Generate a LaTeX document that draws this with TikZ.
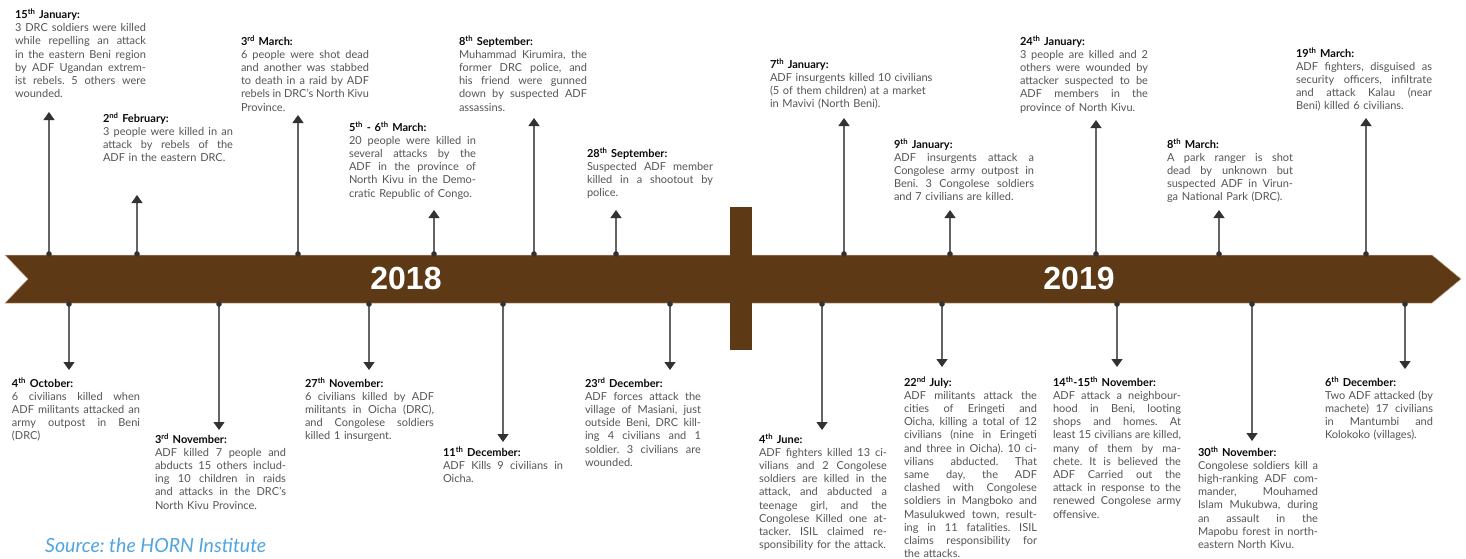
\documentclass[tikz,border=0pt]{standalone}
\usepackage{fontspec}
\setmainfont{Lato}
\setsansfont{Liberation Sans}
\usetikzlibrary{arrows.meta}
\frenchspacing
\definecolor{barbrown}{RGB}{94,57,22}
\definecolor{baredge}{RGB}{200,170,140}
\definecolor{bodytxt}{RGB}{85,85,85}
\definecolor{hdtxt}{RGB}{10,10,10}
\definecolor{conn}{RGB}{100,100,100}
\definecolor{tipc}{RGB}{50,50,50}
\definecolor{srcblue}{RGB}{80,165,225}
\newlength\evw
\newcommand\jl[1]{\hbox to\evw{\spaceskip=0.24em plus 1fil minus 0.08em\xspaceskip=\spaceskip\relax #1}}
\newcommand\nl[1]{\hbox{#1}}
\newcommand\hd[1]{\hbox{\color{hdtxt}\bfseries #1}}
\newcommand\ord[1]{\textsuperscript{#1}}
\begin{document}
\begin{tikzpicture}[x=1pt,y=-1pt,
  evt/.style={anchor=base west, inner sep=0pt, outer sep=0pt, text=bodytxt,
    font=\fontsize{11}{13.2}\selectfont},
  ew/.style={text width=#1, execute at begin node={\global\evw=#1\relax}},
  year/.style={text=white, font=\sffamily\bfseries\fontsize{32}{32}\selectfont, inner sep=0pt},
  connector/.style={draw=conn, line width=1.3pt, -{Triangle[width=11pt,length=8pt,color=tipc]}},
  dotc/.style={fill=tipc}]
\useasboundingbox (0,0) rectangle (1466,558);
\fill[white] (0,0) rectangle (1466,558);
% timeline bar
\fill[barbrown, draw=baredge, line width=0.5pt] (5,255) -- (1432,255) -- (1461,279) -- (1432,303) -- (5,303) -- (28,279) -- cycle;
\fill[barbrown] (730,207) rectangle (752,350);
\node[year] (y18) at (406,278) {2018};
\node[year] (y19) at (1079,278) {2019};
% top events
\node[evt, ew=131pt] (t1) at (15,18.5) {\hd{15\ord{th} January:}
\jl{3 DRC soldiers were killed}
\jl{while repelling an attack}
\jl{in the eastern Beni region}
\jl{by ADF Ugandan extrem-}
\jl{ist rebels. 5 others were}
\nl{wounded.}};
\node[evt, ew=130pt] (t2) at (103,122) {\hd{2\ord{nd} February:}
\jl{3 people were killed in an}
\jl{attack by rebels of the}
\nl{ADF in the eastern DRC.}};
\node[evt, ew=128pt] (t3) at (241,45) {\hd{3\ord{rd} March:}
\jl{6 people were shot dead}
\jl{and another was stabbed}
\jl{to death in a raid by ADF}
\jl{rebels in DRC's North Kivu}
\nl{Province.}};
\node[evt, ew=127pt] (t4) at (349,131) {\hd{5\ord{th} - 6\ord{th} March:}
\jl{20 people were killed in}
\jl{several attacks by the}
\jl{ADF in the province of}
\jl{North Kivu in the Demo-}
\nl{cratic Republic of Congo.}};
\node[evt, ew=128pt] (t5) at (459,45) {\hd{8\ord{th} September:}
\jl{Muhammad Kirumira, the}
\jl{former DRC police, and}
\jl{his friend were gunned}
\jl{down by suspected ADF}
\nl{assassins.}};
\node[evt, ew=126pt] (t6) at (587,157) {\hd{28\ord{th} September:}
\jl{Suspected ADF member}
\jl{killed in a shootout by}
\nl{police.}};
\node[evt, ew=165pt] (t7) at (770,68) {\hd{7\ord{th} January:}
\nl{ADF insurgents killed 10 civilians}
\nl{(5 of them children) at a market}
\nl{in Mavivi (North Beni).}};
\node[evt, ew=140pt] (t8) at (894,148) {\hd{9\ord{th} January:}
\jl{ADF insurgents attack a}
\jl{Congolese army outpost in}
\jl{Beni. 3 Congolese soldiers}
\nl{and 7 civilians are killed.}};
\node[evt, ew=128pt] (t9) at (1020,45) {\hd{24\ord{th} January:}
\jl{3 people are killed and 2}
\jl{others were wounded by}
\jl{attacker suspected to be}
\jl{ADF members in the}
\nl{province of North Kivu.}};
\node[evt, ew=126pt] (t10) at (1167,148) {\hd{8\ord{th} March:}
\jl{A park ranger is shot}
\jl{dead by unknown but}
\jl{suspected ADF in Virun-}
\nl{ga National Park (DRC).}};
\node[evt, ew=136pt] (t11) at (1296,57) {\hd{19\ord{th} March:}
\jl{ADF fighters, disguised as}
\jl{security officers, infiltrate}
\jl{and attack Kalau (near}
\nl{Beni) killed 6 civilians.}};
% bottom events
\node[evt, ew=128pt] (b1) at (12,387) {\hd{4\ord{th} October:}
\jl{6 civilians killed when}
\jl{ADF militants attacked an}
\jl{army outpost in Beni}
\nl{(DRC)}};
\node[evt, ew=131pt] (b2) at (155,443) {\hd{3\ord{rd} November:}
\jl{ADF killed 7 people and}
\jl{abducts 15 others includ-}
\jl{ing 10 children in raids}
\jl{and attacks in the DRC's}
\nl{North Kivu Province.}};
\node[evt, ew=129pt] (b3) at (305,387) {\hd{27\ord{th} November:}
\jl{6 civilians killed by ADF}
\jl{militants in Oicha (DRC),}
\jl{and Congolese soldiers}
\nl{killed 1 insurgent.}};
\node[evt, ew=120pt] (b4) at (443,456) {\hd{11\ord{th} December:}
\jl{ADF Kills 9 civilians in}
\nl{Oicha.}};
\node[evt, ew=116pt] (b5) at (585,387) {\hd{23\ord{rd} December:}
\jl{ADF forces attack the}
\jl{village of Masiani, just}
\jl{outside Beni, DRC kill-}
\jl{ing 4 civilians and 1}
\jl{soldier. 3 civilians are}
\nl{wounded.}};
\node[evt, ew=128pt] (b6) at (759,443) {\hd{4\ord{th} June:}
\jl{ADF fighters killed 13 ci-}
\jl{vilians and 2 Congolese}
\jl{soldiers are killed in the}
\jl{attack, and abducted a}
\jl{teenage girl, and the}
\jl{Congolese Killed one at-}
\jl{tacker. ISIL claimed re-}
\nl{sponsibility for the attack.}};
\node[evt, ew=133pt] (b7) at (904,386) {\hd{22\ord{nd} July:}
\jl{ADF militants attack the}
\jl{cities of Eringeti and}
\jl{Oicha, killing a total of 12}
\jl{civilians (nine in Eringeti}
\jl{and three in Oicha). 10 ci-}
\jl{vilians abducted. That}
\jl{same day, the ADF}
\jl{clashed with Congolese}
\jl{soldiers in Mangboko and}
\jl{Masulukwed town, result-}
\jl{ing in 11 fatalities. ISIL}
\jl{claims responsibility for}
\nl{the attacks.}};
\node[evt, ew=128pt] (b8) at (1053,386) {\hd{14\ord{th}-15\ord{th} November:}
\jl{ADF attack a neighbour-}
\jl{hood in Beni, looting}
\jl{shops and homes. At}
\jl{least 15 civilians are killed,}
\jl{many of them by ma-}
\jl{chete. It is believed the}
\jl{ADF Carried out the}
\jl{attack in response to the}
\jl{renewed Congolese army}
\nl{offensive.}};
\node[evt, ew=120pt] (b9) at (1198,456) {\hd{30\ord{th} November:}
\jl{Congolese soldiers kill a}
\jl{high-ranking ADF com-}
\jl{mander, Mouhamed}
\jl{Islam Mukubwa, during}
\jl{an assault in the}
\jl{Mapobu forest in north-}
\nl{eastern North Kivu.}};
\node[evt, ew=108pt] (b10) at (1325,386) {\hd{6\ord{th} December:}
\jl{Two ADF attacked (by}
\jl{machete) 17 civilians}
\jl{in Mantumbi and}
\nl{Kolokoko (villages).}};
% connectors
\foreach \n/\x/\y in {1/49/112, 2/137/195, 3/298/115, 4/434/210, 5/534/118, 6/616/210,
                      7/844/118, 8/950/210, 9/1096/120, 10/1219/210, 11/1366/118} {
  \coordinate (dt\n) at (\x,254);
  \coordinate (at\n) at (\x,\y);
  \draw[connector] (dt\n) -- (at\n);
  \fill[dotc] (dt\n) circle (2.8);
}
\foreach \n/\x/\y in {1/69/370, 2/219/430, 3/369/370, 4/503/442, 5/670/370,
                      6/822/430, 7/942/367, 8/1117/367, 9/1252/441, 10/1405/369} {
  \coordinate (db\n) at (\x,304);
  \coordinate (ab\n) at (\x,\y);
  \draw[connector] (db\n) -- (ab\n);
  \fill[dotc] (db\n) circle (2.8);
}
\node[anchor=base west, inner sep=0pt, text=srcblue, font=\itshape\fontsize{19.5}{19.5}\selectfont] (src) at (45,552) {Source: the HORN Institute};
\end{tikzpicture}
\end{document}
